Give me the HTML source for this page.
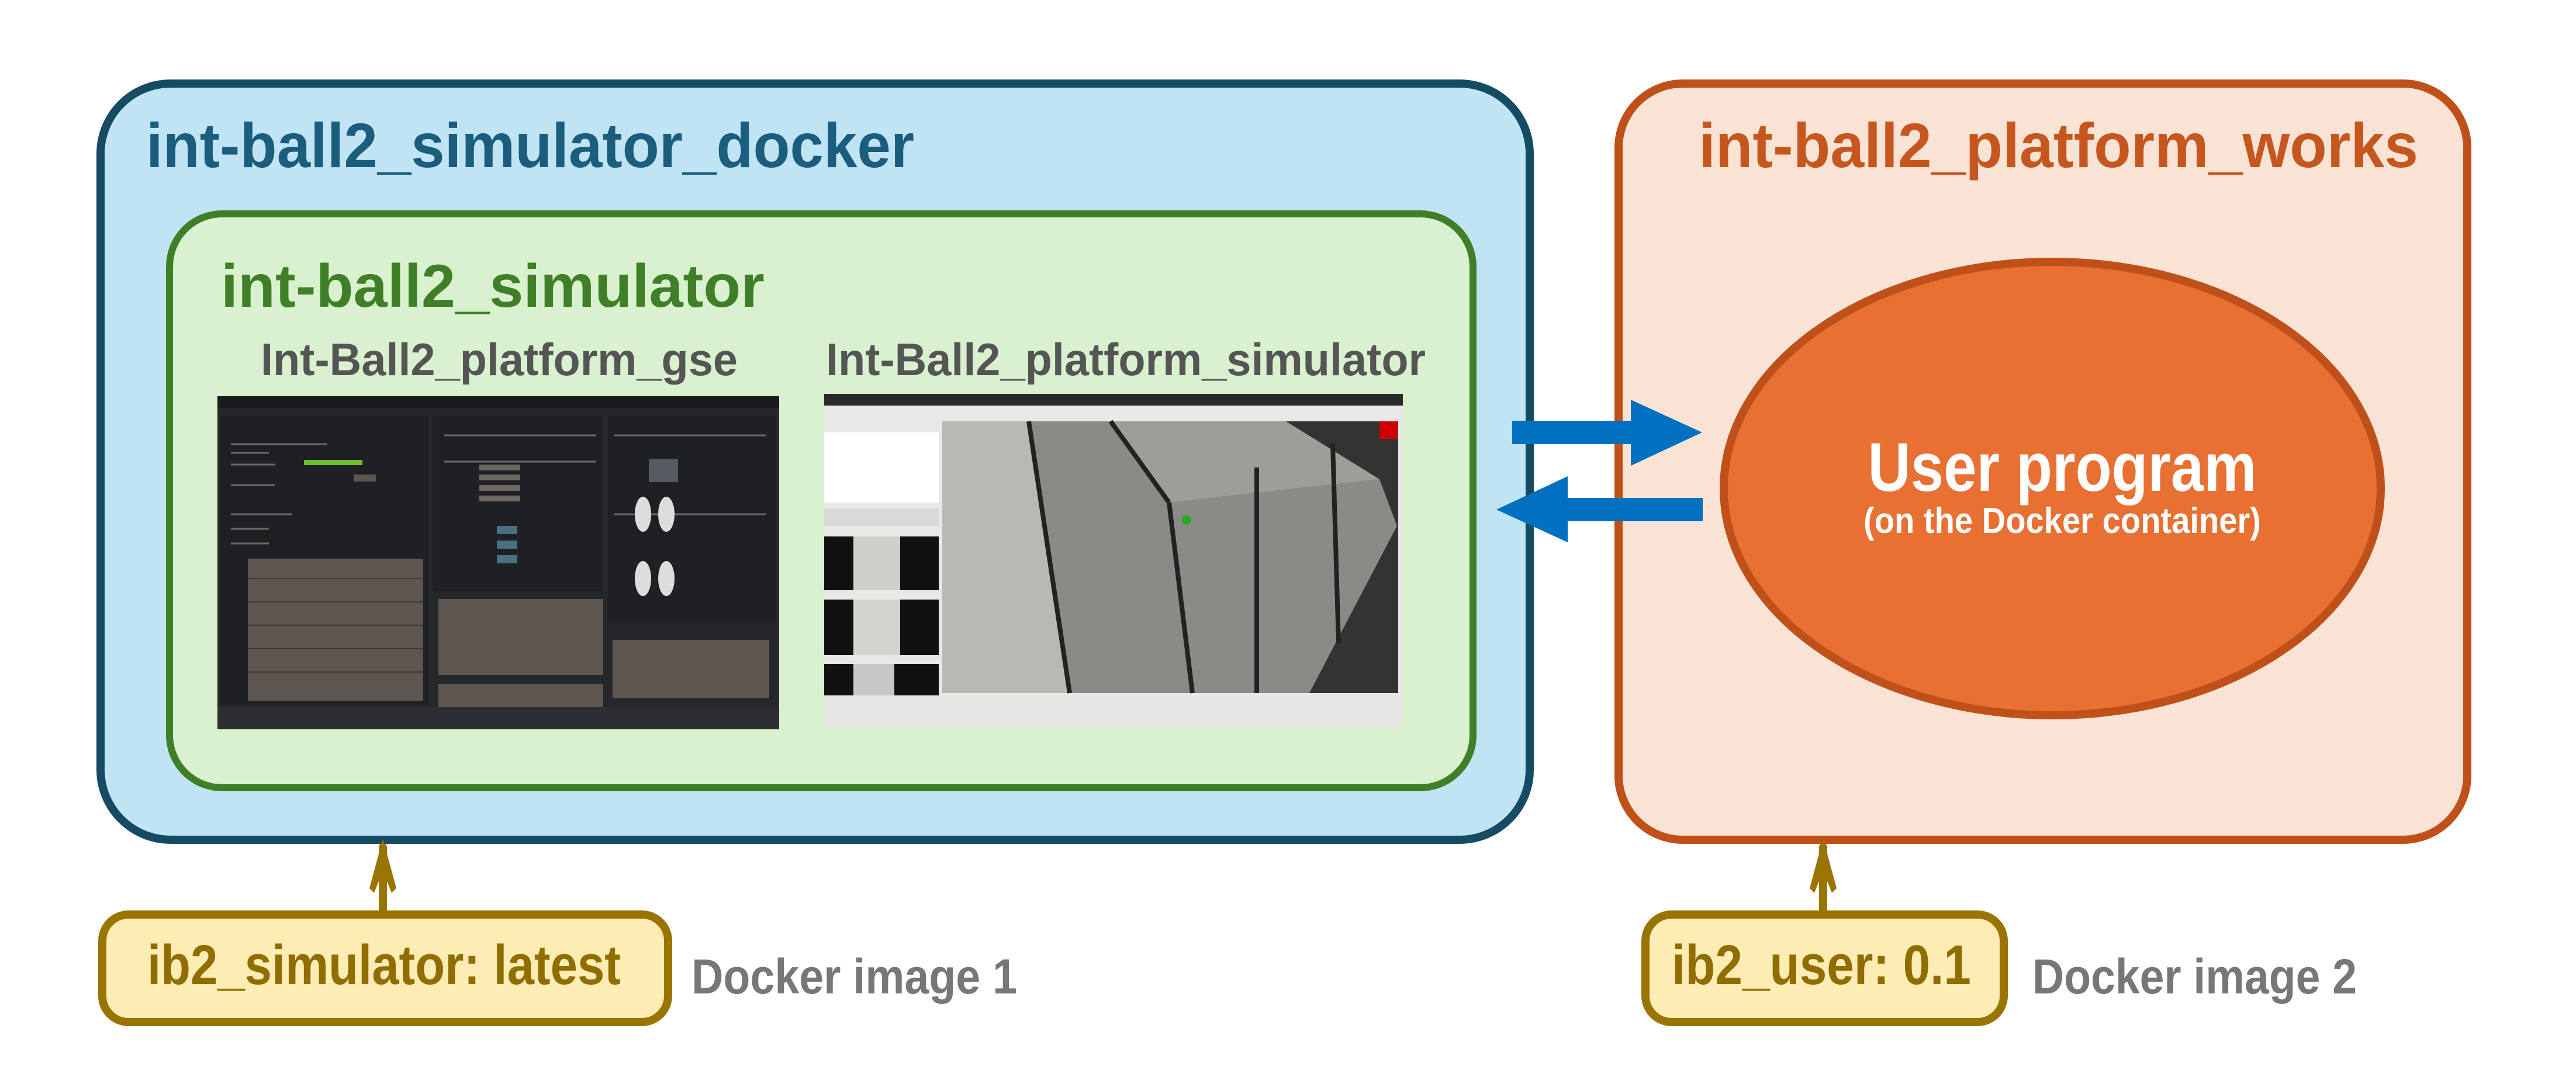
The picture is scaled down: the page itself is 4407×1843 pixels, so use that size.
<!DOCTYPE html>
<html><head><meta charset="utf-8"><style>html,body{margin:0;padding:0;background:#fff}svg{display:block}</style></head>
<body>
<svg xmlns="http://www.w3.org/2000/svg" width="4407" height="1843" viewBox="0 0 4407 1843" font-family="'Liberation Sans Narrow','Liberation Sans',sans-serif" font-weight="bold">
<rect width="4407" height="1843" fill="#fff"/>
<!-- blue container -->
<rect x="172" y="143" width="2445" height="1294" rx="120" fill="#c0e4f4" stroke="#154b63" stroke-width="14"/>
<text x="250" y="286" font-size="108" fill="#1b5d7c" textLength="1314" lengthAdjust="spacingAndGlyphs">int-ball2_simulator_docker</text>
<!-- green -->
<rect x="290" y="366" width="2230" height="982" rx="90" fill="#d9f1cf" stroke="#3f7f27" stroke-width="12"/>
<text x="378" y="525" font-size="104" fill="#3f7f27" textLength="930" lengthAdjust="spacingAndGlyphs">int-ball2_simulator</text>
<text x="446" y="642" font-size="78" fill="#555" textLength="816" lengthAdjust="spacingAndGlyphs">Int-Ball2_platform_gse</text>
<text x="1413" y="642" font-size="78" fill="#555" textLength="1026" lengthAdjust="spacingAndGlyphs">Int-Ball2_platform_simulator</text>

<!-- GSE screenshot -->
<g>
<rect x="372" y="678" width="961" height="570" fill="#25272a"/>
<rect x="372" y="678" width="961" height="20" fill="#1a1b1d"/>
<rect x="376" y="712" width="357" height="495" fill="#1f2023"/>
<rect x="740" y="712" width="292" height="300" fill="#1f2023"/>
<rect x="1040" y="712" width="288" height="355" fill="#1f2023"/>
<g stroke="#6a6a6a" stroke-width="3">
<line x1="395" y1="760" x2="560" y2="760"/><line x1="395" y1="775" x2="460" y2="775"/>
<line x1="395" y1="795" x2="470" y2="795"/><line x1="395" y1="830" x2="470" y2="830"/>
<line x1="395" y1="880" x2="500" y2="880"/><line x1="395" y1="905" x2="460" y2="905"/>
<line x1="395" y1="930" x2="460" y2="930"/>
<line x1="760" y1="745" x2="1020" y2="745"/><line x1="760" y1="790" x2="1020" y2="790"/>
<line x1="1050" y1="745" x2="1310" y2="745"/><line x1="1050" y1="880" x2="1310" y2="880"/>
</g>
<rect x="424" y="956" width="300" height="244" fill="#5c5550"/>
<g stroke="#3e3a37" stroke-width="2">
<line x1="424" y1="990" x2="724" y2="990"/><line x1="424" y1="1030" x2="724" y2="1030"/>
<line x1="424" y1="1070" x2="724" y2="1070"/><line x1="424" y1="1110" x2="724" y2="1110"/>
<line x1="424" y1="1150" x2="724" y2="1150"/>
</g>
<rect x="520" y="787" width="100" height="9" fill="#6bbf2f"/>
<rect x="605" y="812" width="38" height="12" fill="#5c5550"/>
<rect x="750" y="1025" width="282" height="130" fill="#5c5550"/>
<rect x="750" y="1170" width="282" height="55" fill="#5c5550"/>
<rect x="1048" y="1095" width="268" height="100" fill="#5c5550"/>
<rect x="820" y="795" width="70" height="10" fill="#6d6762"/>
<rect x="820" y="812" width="70" height="10" fill="#6d6762"/>
<rect x="820" y="830" width="70" height="10" fill="#6d6762"/>
<rect x="820" y="848" width="70" height="10" fill="#6d6762"/>
<rect x="850" y="900" width="35" height="14" fill="#4a7080"/>
<rect x="850" y="925" width="35" height="14" fill="#4a7080"/>
<rect x="850" y="950" width="35" height="14" fill="#4a7080"/>
<rect x="1110" y="785" width="50" height="40" fill="#555a60"/>
<ellipse cx="1100" cy="880" rx="14" ry="30" fill="#ddd"/>
<ellipse cx="1140" cy="880" rx="14" ry="30" fill="#ddd"/>
<ellipse cx="1100" cy="990" rx="14" ry="30" fill="#ddd"/>
<ellipse cx="1140" cy="990" rx="14" ry="30" fill="#ddd"/>
<rect x="372" y="1210" width="961" height="38" fill="#2c2e31"/>
</g>
<!-- RViz screenshot -->
<g>
<rect x="1410" y="674" width="990" height="572" fill="#e8e8e6"/>
<rect x="1410" y="674" width="990" height="20" fill="#2a2a2a"/>
<rect x="1410" y="740" width="196" height="120" fill="#fff"/>
<rect x="1410" y="870" width="196" height="30" fill="#d9d9d7"/>
<rect x="1410" y="918" width="196" height="92" fill="#111"/>
<rect x="1460" y="918" width="80" height="92" fill="#cfcfcc"/>
<rect x="1410" y="1026" width="196" height="95" fill="#111"/>
<rect x="1460" y="1026" width="80" height="95" fill="#d3d3d0"/>
<rect x="1410" y="1136" width="196" height="100" fill="#111"/>
<rect x="1460" y="1136" width="70" height="100" fill="#c8c8c6"/>
<rect x="1612" y="721" width="780" height="465" fill="#333"/>
<polygon points="1612,721 1900,721 2000,860 2360,820 2390,900 2240,1186 1780,1186 1612,960" fill="#8a8a86"/>
<polygon points="1612,721 1760,721 1830,1186 1612,1186" fill="#b9b9b4"/>
<polygon points="1900,721 2200,721 2360,820 2000,860" fill="#9e9e98"/>
<g stroke="#222" stroke-width="8">
<line x1="1900" y1="721" x2="2000" y2="860"/><line x1="2000" y1="860" x2="2040" y2="1186"/>
<line x1="2150" y1="800" x2="2150" y2="1186"/><line x1="2280" y1="760" x2="2290" y2="1100"/>
<line x1="1760" y1="721" x2="1830" y2="1186"/>
</g>
<rect x="2360" y="721" width="32" height="30" fill="#c00"/>
<circle cx="2030" cy="890" r="8" fill="#2a2"/>
<rect x="1410" y="1190" width="990" height="56" fill="#e6e6e4"/>
</g>

<!-- orange container -->
<rect x="2769" y="143" width="1452" height="1294" rx="110" fill="#f9e3d4" stroke="#c0501a" stroke-width="14"/>
<text x="2906" y="286" font-size="108" fill="#c5561e" textLength="1231" lengthAdjust="spacingAndGlyphs">int-ball2_platform_works</text>
<ellipse cx="3511" cy="836" rx="562" ry="388" fill="#e87033" stroke="#c0501a" stroke-width="14"/>
<text x="3528" y="840" font-size="118" fill="#fff" text-anchor="middle" textLength="665" lengthAdjust="spacingAndGlyphs">User program</text>
<text x="3528" y="912" font-size="62" fill="#fff" text-anchor="middle" textLength="680" lengthAdjust="spacingAndGlyphs">(on the Docker container)</text>

<!-- blue arrows -->
<polygon points="2587,720 2790,720 2790,684 2912,740 2790,797 2790,760 2587,760" fill="#0070c0"/>
<polygon points="2560,872 2682,815 2682,852 2913,852 2913,892 2682,892 2682,928" fill="#0070c0"/>

<!-- up arrows -->
<g stroke="#9a7400" stroke-width="14" stroke-linecap="round" fill="none">
<line x1="655" y1="1450" x2="655" y2="1556"/>
<line x1="3119" y1="1450" x2="3119" y2="1556"/>
</g>
<polygon points="655,1435 678,1520 670,1528 655,1490 640,1528 632,1520" fill="#9a7400"/>
<polygon points="3119,1435 3142,1520 3134,1528 3119,1490 3104,1528 3096,1520" fill="#9a7400"/>

<!-- yellow boxes -->
<rect x="175" y="1565" width="968" height="184" rx="45" fill="#fdecb4" stroke="#9a7400" stroke-width="14"/>
<text x="252" y="1684" font-size="96" fill="#8f6d00" textLength="810" lengthAdjust="spacingAndGlyphs">ib2_simulator: latest</text>
<text x="1183" y="1700" font-size="84" fill="#777" textLength="557" lengthAdjust="spacingAndGlyphs">Docker image 1</text>
<rect x="2815" y="1565" width="613" height="184" rx="45" fill="#fdecb4" stroke="#9a7400" stroke-width="14"/>
<text x="2860" y="1684" font-size="96" fill="#8f6d00" textLength="512" lengthAdjust="spacingAndGlyphs">ib2_user: 0.1</text>
<text x="3477" y="1700" font-size="84" fill="#777" textLength="555" lengthAdjust="spacingAndGlyphs">Docker image 2</text>
</svg>
</body></html>
